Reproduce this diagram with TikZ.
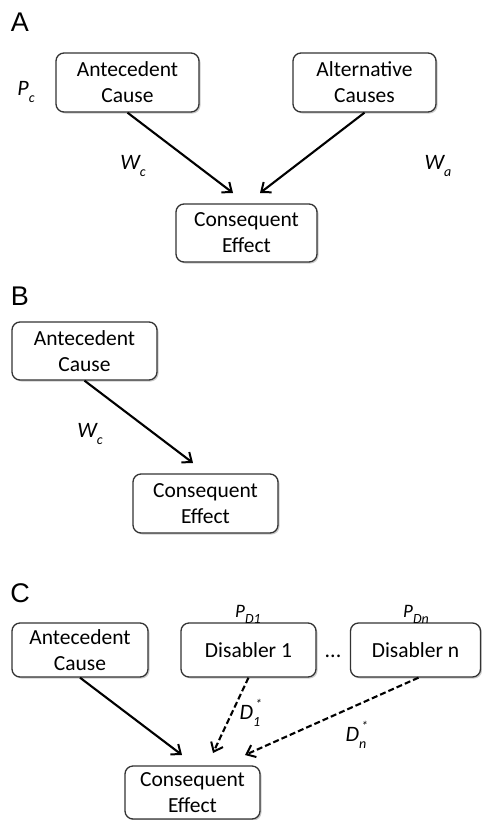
\documentclass[tikz,border=0pt]{standalone}
\usepackage{fontspec}
\setmainfont{Carlito}
\newfontfamily\panelfont{Liberation Sans}
\usetikzlibrary{arrows.meta,shadows}
\newcommand{\sublbl}[2]{{\itshape #1\raisebox{-0.32em}{\fontsize{14}{14}\selectfont #2}}}
\newcommand{\dlbl}[1]{{\itshape D\rlap{\raisebox{0.5em}{\fontsize{13}{13}\selectfont\,*}}\raisebox{-0.32em}{\fontsize{14}{14}\selectfont #1}}}
\begin{document}
\begin{tikzpicture}[x=1pt,y=-1pt,
  box/.style={draw=black!80, line width=1.3pt, rounded corners=8pt, fill=white,
    align=center, inner sep=0pt, font=\fontsize{21.5}{26}\selectfont,
    drop shadow={shadow xshift=1.5pt, shadow yshift=-1.5pt, opacity=0.2, fill=black}},
  panel/.style={font=\panelfont\fontsize{27}{27}\selectfont, inner sep=0pt},
  lbl/.style={font=\fontsize{22}{22}\selectfont, inner sep=0pt},
  arr/.style={-{Straight Barb[length=8pt,width=13pt,line width=2pt]}, line width=2.1pt, black},
  darr/.style={arr, dash pattern=on 6pt off 3pt}]
\useasboundingbox (0,0) rectangle (482,820);
% Panel A
\node[panel] (pA) at (20,22) {A};
\node[box, minimum width=143pt, minimum height=59pt] (antA) at (127.5,82.5) {Antecedent\\Cause};
\node[box, minimum width=143pt, minimum height=59pt] (altA) at (364.5,82.5) {Alternative\\Causes};
\node[box, minimum width=141pt, minimum height=58pt] (conA) at (246.5,233) {Consequent\\Effect};
\node[lbl] (pc) at (26,92) {\sublbl{P}{c}};
\node[lbl] (wcA) at (133,166) {\sublbl{W}{c}};
\node[lbl] (wa) at (438,166) {\sublbl{W}{a}};
\coordinate (eA1) at (233,193);
\coordinate (eA2) at (260,193);
\draw[arr] (antA.south) -- (eA1);
\draw[arr] (altA.south) -- (eA2);
% Panel B
\node[panel] (pB) at (20,296) {B};
\node[box, minimum width=145pt, minimum height=58pt] (antB) at (84.5,351) {Antecedent\\Cause};
\node[box, minimum width=145pt, minimum height=59pt] (conB) at (205.5,503.5) {Consequent\\Effect};
\node[lbl] (wcB) at (90,434) {\sublbl{W}{c}};
\coordinate (eB) at (193,463);
\draw[arr] (antB.south) -- (eB);
% Panel C
\node[panel] (pC) at (20,593) {C};
\node[box, minimum width=136pt, minimum height=54pt] (antC) at (80,650) {Antecedent\\Cause};
\node[box, minimum width=135pt, minimum height=54pt] (d1) at (248.5,650) {Disabler 1};
\node[box, minimum width=130pt, minimum height=54pt] (dn) at (415.5,650) {Disabler n};
\node[lbl] (dots) at (333,656) {...};
\node[box, minimum width=135pt, minimum height=53pt] (conC) at (192.5,792.5) {Consequent\\Effect};
\node[lbl, font=\fontsize{19}{19}\selectfont] (pd1) at (248,614) {\sublbl{P}{D1}};
\node[lbl, font=\fontsize{19}{19}\selectfont] (pdn) at (416,614) {\sublbl{P}{Dn}};
\node[lbl] (d1s) at (250,713) {\dlbl{1}};
\node[lbl] (dns) at (356,735) {\dlbl{n}};
\coordinate (eC1) at (182,755);
\coordinate (eC2) at (213,753);
\coordinate (eC3) at (245,755);
\draw[arr] (antC.south) -- (eC1);
\draw[darr] (d1.south) -- (eC2);
\draw[darr] ([xshift=3pt]dn.south) -- (eC3);
\end{tikzpicture}
\end{document}
